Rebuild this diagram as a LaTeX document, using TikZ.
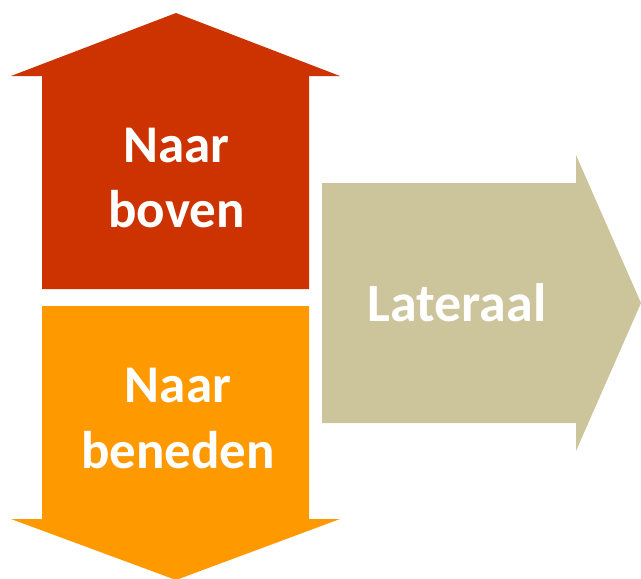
\documentclass[tikz,border=0pt]{standalone}
\usepackage{fontspec}
\setmainfont{Carlito}
\definecolor{upred}{HTML}{CC3300}
\definecolor{downorange}{HTML}{FF9900}
\definecolor{lattan}{HTML}{CCC49A}
\begin{document}
\begin{tikzpicture}[x=1pt,y=-1pt,
  lbl/.style={text=white,font=\bfseries\fontsize{53}{65.5}\selectfont,align=center,inner sep=0pt,anchor=base},
  latlbl/.style={text=white,font=\bfseries\fontsize{54}{66}\selectfont,inner sep=0pt,anchor=base}]
\useasboundingbox (0,0) rectangle (641,579);
% up arrow
\fill[upred] (42,289) -- (42,76) -- (11,76) -- (176,13) -- (340,76) -- (309,76) -- (309,289) -- cycle;
% down arrow
\fill[downorange] (42,306) -- (309,306) -- (309,519) -- (340,519) -- (176,580) -- (11,519) -- (42,519) -- cycle;
% lateral arrow
\fill[lattan] (322,183) -- (576,183) -- (576,155) -- (641,303) -- (576,451) -- (576,423) -- (322,423) -- cycle;
\node[lbl] (up) at (176.5,227.7) {Naar\\boven};
\node[lbl] (down) at (178,468.3) {Naar\\beneden};
\node[latlbl] (lat) at (457,321.7) {Lateraal};
\end{tikzpicture}
\end{document}
